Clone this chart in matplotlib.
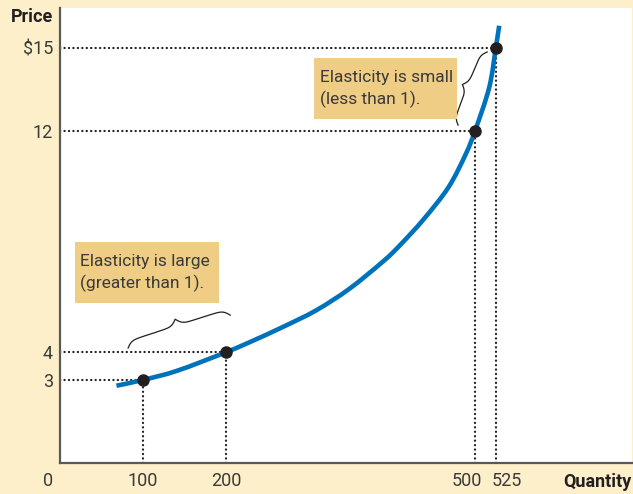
import numpy as np
import matplotlib
matplotlib.use("Agg")
import matplotlib.pyplot as plt
from matplotlib.path import Path
from matplotlib.patches import PathPatch, Rectangle
from matplotlib.transforms import blended_transform_factory, offset_copy

# ---- data ----
curve_q = [68, 100, 141, 200, 229, 269, 309, 349, 390, 410, 438, 468, 489, 500, 517, 525, 529]
curve_p = [2.79, 3.0, 3.33, 4.0, 4.37, 4.92, 5.52, 6.30, 7.30, 7.88, 8.80, 9.96, 11.17, 12.0, 13.56, 15.0, 15.79]

point_q = [100, 200, 500, 525]
point_p = [3, 4, 12, 15]

x_ticks = [100, 200, 500, 525]
x_tick_labels = ["100", "200", "500", "525"]
y_ticks = [3, 4, 12, 15]
y_tick_labels = ["3", "4", "12", "$15"]

box_small_text = "Elasticity is small\n(less than 1)."
box_large_text = "Elasticity is large\n(greater than 1)."

plt.rcParams["font.family"] = ["Roboto", "DejaVu Sans"]

BG = "#FDEFC9"
BOX = "#EFCD85"
BLUE = "#0072BC"
DARK = "#231F20"
TXT = "#3A3A3A"
AXC = "#58595B"
FS = 13

W, H = 633, 494
fig = plt.figure(figsize=(W / 100, H / 100), dpi=100, facecolor=BG)
ax = fig.add_axes([60 / W, (H - 463) / H, (632 - 60) / W, (463 - 8) / H])
ax.set_facecolor("white")
ax.set_xlim(0, 689)
ax.set_ylim(0, 16.43)
for s in ["top", "right"]:
    ax.spines[s].set_visible(False)
for s in ["left", "bottom"]:
    ax.spines[s].set_color(AXC)
    ax.spines[s].set_linewidth(1.6)

ax.set_xticks(x_ticks)
ax.set_xticklabels([])
ax.set_yticks(y_ticks)
ax.set_yticklabels(y_tick_labels)
ax.tick_params(length=0, labelsize=FS, colors=TXT)
ax.tick_params(axis="y", pad=5)

# x tick labels placed by hand (500 and 525 are nudged apart, as in the original)
xlab_tr = blended_transform_factory(ax.transData, ax.transAxes)
label_shift_px = {"500": -8, "525": 11}
for q, lab in zip(x_ticks, x_tick_labels):
    tr = offset_copy(xlab_tr, fig=fig, x=label_shift_px.get(lab, 0), y=-18, units="dots")
    ax.text(q, 0, lab, transform=tr, ha="center", va="center", fontsize=FS,
            color=TXT, clip_on=False)

# dotted guide lines
dot = dict(color=DARK, lw=1.6, linestyle=(0, (0.1, 1.9)), dash_capstyle="round", zorder=2)
for q, p in zip(point_q, point_p):
    ax.plot([0, q], [p, p], **dot)
    ax.plot([q, q], [0, p], **dot)

# smooth curve through the read points (Catmull-Rom rendered as cubic Beziers)
pts = np.column_stack([curve_q, curve_p]).astype(float)
verts = [pts[0]]
codes = [Path.MOVETO]
n = len(pts)
for i in range(n - 1):
    p0 = pts[i - 1] if i > 0 else pts[i]
    p1 = pts[i]
    p2 = pts[i + 1]
    p3 = pts[i + 2] if i + 2 < n else pts[i + 1]
    c1 = p1 + (p2 - p0) / 6.0
    c2 = p2 - (p3 - p1) / 6.0
    verts += [c1, c2, p2]
    codes += [Path.CURVE4] * 3
ax.add_patch(PathPatch(Path(verts, codes), facecolor="none", edgecolor=BLUE,
                       lw=3.3, capstyle="butt", zorder=3))
ax.plot(point_q, point_p, "o", color=DARK, ms=8, zorder=4)

# boxes with text
fig.patches.append(Rectangle((314, H - 119), 143, 61, transform=None,
                             facecolor=BOX, edgecolor="none", zorder=1))
fig.patches.append(Rectangle((75, H - 303), 144, 61, transform=None,
                             facecolor=BOX, edgecolor="none", zorder=1))
fig.text(320 / W, 1 - 89 / H, box_small_text, fontsize=12.5, color=TXT,
         va="center", ha="left", linespacing=1.4, zorder=5)
fig.text(80 / W, 1 - 273 / H, box_large_text, fontsize=12.5, color=TXT,
         va="center", ha="left", linespacing=1.4, zorder=5)


def brace(ax, p0, p1, depth, side=1, beta=0.35):
    """Draw a curly brace between two data points (depth in pixels)."""
    a = ax.transData.transform(p0)
    b = ax.transData.transform(p1)
    d = b - a
    L = np.hypot(*d)
    u = d / L
    nrm = np.array([-u[1], u[0]]) * side
    half = L / 2
    xs = np.linspace(0, half, 200)
    yh = 1 / (1 + np.exp(-beta * (xs - xs[0]))) + 1 / (1 + np.exp(-beta * (xs - xs[-1])))
    xx = np.concatenate([xs, L - xs[::-1][1:]])
    yy = np.concatenate([yh, yh[::-1][1:]])
    yy = (yy - yy.min()) / (yy.max() - yy.min()) * depth
    ptsb = a + np.outer(xx, u) + np.outer(yy, nrm)
    data = ax.transData.inverted().transform(ptsb)
    ax.plot(data[:, 0], data[:, 1], color=DARK, lw=0.9, zorder=3, clip_on=False)


brace(ax, (479.5, 12.2), (514.5, 14.84), 11, side=1)
brace(ax, (82, 4.15), (205, 5.34), 13, side=1)

# axis titles and origin
fig.text(53 / W, 1 - 17 / H, "Price", fontsize=FS, fontweight="bold", color=DARK,
         ha="right", va="center")
fig.text(631 / W, 1 - 482 / H, "Quantity", fontsize=FS, fontweight="bold", color=DARK,
         ha="right", va="center")
fig.text(48 / W, 1 - 481 / H, "0", fontsize=FS, color=TXT, ha="center", va="center")

fig.savefig("out.png", dpi=100, facecolor=BG)
